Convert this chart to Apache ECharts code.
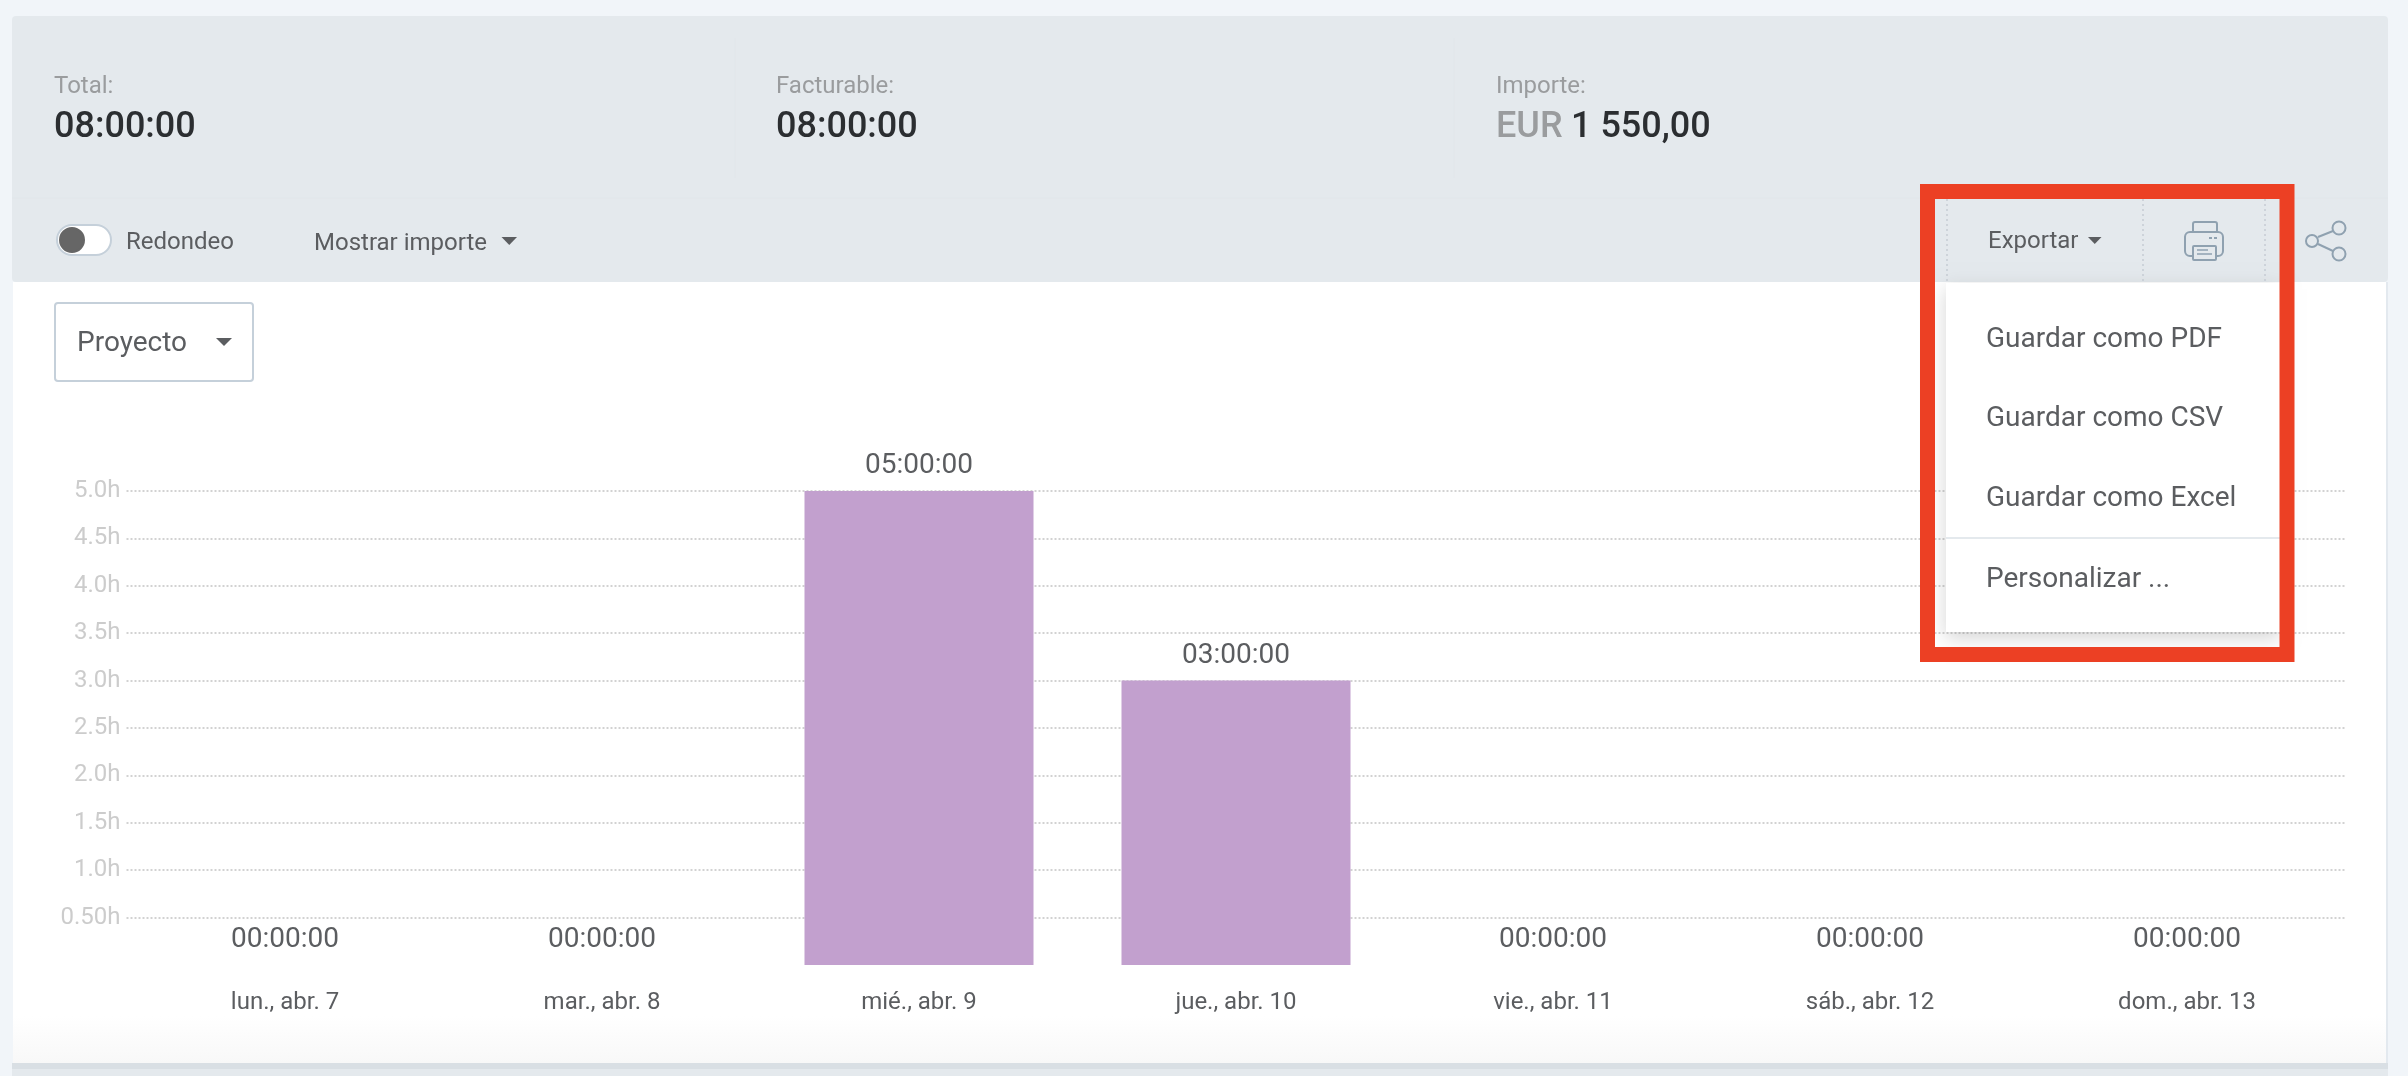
<!DOCTYPE html>
<html lang="es">
<head>
    <meta charset="UTF-8">
    <title>Informe</title>
    <style>
        html, body { margin: 0; padding: 0; background: #f1f5f9; }
        #main { width: 2408px; height: 1076px; }
    </style>
</head>
<body>
<div id="main"></div>
<script src="https://cdn.jsdelivr.net/npm/echarts@6/dist/echarts.min.js"></script>
<script type="text/javascript">
    // datos del grafico
    var days = ['lun., abr. 7', 'mar., abr. 8', 'mié., abr. 9', 'jue., abr. 10', 'vie., abr. 11', 'sáb., abr. 12', 'dom., abr. 13'];
    var hours = [0, 0, 5, 3, 0, 0, 0];
    var durations = ['00:00:00', '00:00:00', '05:00:00', '03:00:00', '00:00:00', '00:00:00', '00:00:00'];
    var menuItems = ['Guardar como PDF', 'Guardar como CSV', 'Guardar como Excel', 'Personalizar ...'];
    var menuItemsY = [340, 419, 499, 580];
    var tickLabels = { 0.5: '0.50h', 1: '1.0h', 1.5: '1.5h', 2: '2.0h', 2.5: '2.5h', 3: '3.0h', 3.5: '3.5h', 4: '4.0h', 4.5: '4.5h', 5: '5.0h' };

    var FONT = 'Roboto, sans-serif';
    var TOP = 100;   // por encima de las barras

    function box(x, y, w, h, fill, extra, z) {
        var s = { fill: fill };
        for (var k in extra || {}) s[k] = extra[k];
        var r = s.r; delete s.r;
        return { type: 'rect', silent: true, z: z === undefined ? TOP : z, shape: { x: x, y: y, width: w, height: h, r: r || 0 }, style: s };
    }
    function label(str, x, y, size, color, weight) {
        return {
            type: 'text', silent: true, z: TOP + 2, x: x, y: y,
            style: { text: str, fill: color, font: (weight || 400) + ' ' + size + 'px ' + FONT, textVerticalAlign: 'middle' }
        };
    }
    function seg(x1, y1, x2, y2, color, width, dash, z) {
        return {
            type: 'line', silent: true, z: z === undefined ? TOP + 1 : z,
            shape: { x1: x1, y1: y1, x2: x2, y2: y2 },
            style: { stroke: color, lineWidth: width || 1, lineDash: dash || null }
        };
    }
    function caret(x, y, w, h, color) {
        return {
            type: 'polygon', silent: true, z: TOP + 2,
            shape: { points: [[x, y], [x + w, y], [x + w / 2, y + h]] },
            style: { fill: color }
        };
    }
    function ring(cx, cy, r, stroke, fill, width) {
        return {
            type: 'circle', silent: true, z: TOP + 2,
            shape: { cx: cx, cy: cy, r: r },
            style: { stroke: stroke, fill: fill, lineWidth: width || 2 }
        };
    }

    var ui = [
        // panel blanco, por debajo de la rejilla
        box(13, 282, 2373, 781, {
            type: 'linear', x: 0, y: 0, x2: 0, y2: 1,
            colorStops: [{ offset: 0, color: '#ffffff' }, { offset: 0.94, color: '#ffffff' }, { offset: 1, color: '#f8f8f8' }]
        }, null, -2),
        box(12, 1063, 2376, 13, '#e4e9ed', null, -2),
        box(12, 1063, 2376, 6, '#d9dfe4', null, -2),
        seg(2387, 282, 2387, 1063, '#e3e9ef', 2, null, -2),
        // cabecera
        box(12, 16, 2376, 266, '#e4e9ed', { r: 4 }),
        seg(12, 198, 2388, 198, '#e1e6ea', 1),
        seg(735, 38, 735, 178, '#e1e6ea', 1),
        seg(1454, 38, 1454, 178, '#e1e6ea', 1),
        label('Total:', 54, 87, 24, '#9a9c9e'),
        label('08:00:00', 54, 128, 36, '#2b2e31', 500),
        label('Facturable:', 776, 87, 24, '#9a9c9e'),
        label('08:00:00', 776, 128, 36, '#2b2e31', 500),
        label('Importe:', 1496, 87, 24, '#9a9c9e'),
        label('EUR', 1496, 128, 36, '#9a9c9e', 500),
        label('1 550,00', 1571, 128, 36, '#2b2e31', 500),
        // interruptor y selector
        box(57, 225, 54, 30, '#ffffff', { r: 15, stroke: '#c5d0da', lineWidth: 2 }),
        ring(72, 240, 12, '#666666', '#666666', 0),
        label('Redondeo', 126, 243, 24, '#5b5d60'),
        label('Mostrar importe', 314, 244, 24, '#5b5d60'),
        caret(501.5, 237, 15.5, 8, '#5b5d60'),
        box(55, 303, 198, 78, '#ffffff', { r: 3, stroke: '#c5d0da', lineWidth: 2 }),
        label('Proyecto', 77, 344, 28, '#5b5d60'),
        caret(216, 338, 16, 8, '#5b5d60'),
        // botones de exportar
        seg(1947, 199, 1947, 282, '#c5ccd3', 1.5, [2, 3]),
        seg(2143, 199, 2143, 282, '#c5ccd3', 1.5, [2, 3]),
        seg(2265, 199, 2265, 282, '#c5ccd3', 1.5, [2, 3]),
        label('Exportar', 1988, 242, 24, '#5b5d60'),
        caret(2088, 237, 13.5, 7, '#5b5d60'),
        // impresora
        box(2193, 222, 24, 16, 'transparent', { stroke: '#8fa1b0', lineWidth: 2, r: 2 }),
        box(2185, 232, 38, 24, '#e4e9ed', { stroke: '#8fa1b0', lineWidth: 2, r: 5 }),
        box(2193, 246, 23, 14, '#e4e9ed', { stroke: '#8fa1b0', lineWidth: 2, r: 1 }),
        seg(2197, 250, 2208, 250, '#8fa1b0', 1.5),
        seg(2197, 254, 2212, 254, '#8fa1b0', 1.5),
        seg(2209, 238, 2212, 238, '#8fa1b0', 2),
        seg(2214, 238, 2217, 238, '#8fa1b0', 2),
        // compartir
        seg(2318, 237, 2333, 231, '#8fa1b0', 2),
        seg(2318, 244, 2333, 251, '#8fa1b0', 2),
        ring(2339, 228, 6.5, '#8fa1b0', '#e4e9ed'),
        ring(2312, 241, 6, '#8fa1b0', '#e4e9ed'),
        ring(2339, 254, 6.5, '#8fa1b0', '#e4e9ed'),
        // menu desplegable
        box(1946, 283, 334, 349, '#ffffff', { shadowBlur: 18, shadowColor: 'rgba(0,0,0,0.16)', shadowOffsetY: 6 }),
        seg(1946, 538, 2280, 538, '#e4e9ed', 2),
        // marco rojo
        box(1927.5, 191.5, 359.5, 463, 'transparent', { stroke: '#ec4024', lineWidth: 15 }, TOP + 3)
    ];
    for (var i = 0; i < menuItems.length; i++) {
        ui.push(label(menuItems[i], 1986, menuItemsY[i], 28, '#5b5d60'));
    }

    var myChart = echarts.init(document.getElementById('main'));
    var option = {
        backgroundColor: '#f1f5f9',
        animation: false,
        graphic: { elements: ui },
        grid: { left: 126.5, top: 491, width: 2219, height: 474 },
        xAxis: {
            type: 'category',
            data: days,
            axisLine: { show: false },
            axisTick: { show: false },
            axisLabel: { color: '#5b5d60', fontFamily: 'Roboto', fontSize: 24, margin: 26 }
        },
        yAxis: {
            type: 'value',
            min: 0,
            max: 5,
            interval: 0.5,
            axisLine: { show: false },
            axisTick: { show: false },
            axisLabel: {
                color: '#cccccc', fontFamily: 'Roboto', fontSize: 24, margin: 6, padding: [3, 0, 0, 0],
                formatter: function (v) { return tickLabels[v] || ''; }
            },
            splitLine: { showMinLine: false, lineStyle: { color: '#c4c4c4', width: 1.5, type: [2, 2] } }
        },
        series: [
            {
                type: 'bar',
                data: hours,
                barWidth: 229,
                itemStyle: { color: '#c2a0ce' },
                label: {
                    show: true,
                    position: 'top',
                    distance: 11,
                    color: '#5b5d60',
                    fontFamily: 'Roboto',
                    fontSize: 28,
                    formatter: function (p) { return durations[p.dataIndex]; }
                }
            }
        ]
    };
    myChart.setOption(option);
</script>
</body>
</html>
